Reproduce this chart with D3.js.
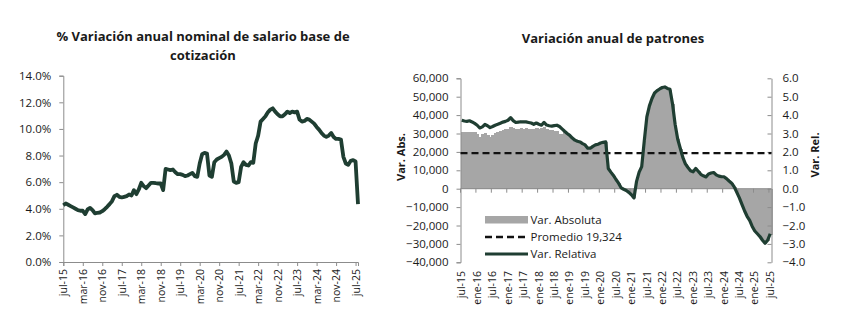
<!DOCTYPE html>
<html><head><meta charset="utf-8">
<script src="https://cdn.jsdelivr.net/npm/d3@7"></script>
<style>
body{margin:0;background:#fff;}
svg{display:block;font-family:"Open Sans",sans-serif;}
</style></head>
<body><svg id="c" width="849" height="334"></svg>
<script>
// ---- Data ----
const salario = [4.27,4.4,4.3,4.2,4.1,4.0,3.9,3.85,3.85,3.6,3.95,4.07,3.9,3.65,3.7,3.72,3.82,3.97,4.15,4.35,
4.57,4.95,5.05,4.9,4.85,4.9,4.95,5.07,5.0,5.4,5.1,5.45,5.95,5.7,5.55,5.75,5.95,5.95,5.92,5.9,
5.9,5.4,7.0,6.95,6.9,6.95,6.75,6.6,6.6,6.55,6.45,6.5,6.6,6.7,6.45,6.4,7.4,8.1,8.2,8.15,
6.5,6.4,7.5,7.7,7.8,7.9,8.05,8.3,8.0,7.4,6.05,5.95,6.0,7.15,7.5,7.3,7.25,7.5,7.45,8.9,
9.5,10.55,10.75,10.95,11.25,11.45,11.55,11.3,11.1,10.95,10.95,11.1,11.3,11.2,11.3,11.25,11.3,10.7,10.55,10.6,
10.75,10.7,10.55,10.4,10.15,9.95,9.7,9.5,9.4,9.5,9.7,9.4,9.25,9.25,9.2,7.9,7.4,7.3,7.6,7.65,
7.55,4.35];
const relativa = [3.72,3.68,3.66,3.69,3.63,3.55,3.45,3.3,3.36,3.49,3.42,3.32,3.38,3.45,3.5,3.56,3.62,3.66,3.72,3.86,
3.7,3.6,3.62,3.64,3.63,3.63,3.6,3.57,3.5,3.57,3.5,3.45,3.6,3.46,3.42,3.4,3.43,3.45,3.38,3.25,
3.12,3.0,2.9,2.75,2.64,2.58,2.54,2.45,2.38,2.2,2.2,2.3,2.38,2.42,2.48,2.52,2.55,1.1,0.9,0.72,
0.5,0.3,0.05,-0.03,-0.1,-0.2,-0.33,-0.5,0.4,0.9,1.2,2.6,3.9,4.5,4.9,5.2,5.33,5.42,5.5,5.53,
5.45,5.4,4.6,3.5,2.7,2.2,1.7,1.35,1.15,0.98,0.92,1.1,0.95,0.78,0.7,0.64,0.8,0.85,0.88,0.75,
0.68,0.66,0.65,0.55,0.42,0.3,0.1,-0.2,-0.5,-0.85,-1.2,-1.5,-1.72,-2.05,-2.3,-2.45,-2.6,-2.8,-2.97,-2.8,
-2.45];
const absoluta = [31000,30800,30900,31000,30700,30600,29800,28300,29500,30300,29000,28200,29300,30200,30900,31500,32000,32300,32600,33400,
32800,32500,32700,32900,32600,32800,32700,32400,32700,32900,32300,33100,33300,32300,31900,31700,31400,31100,30000,29600,
31000,29800,28800,27400,26300,25700,25300,24400,23700,21900,22000,23000,23700,24100,24700,25100,25400,10800,8900,7100,
4900,2900,400,-400,-1000,-2100,-3400,-5100,3900,8900,11800,25800,38800,44800,48800,51800,53200,54100,54800,55100,
54400,53800,45800,34800,26800,21800,16800,13400,11400,9700,9100,10900,9400,7700,6900,6300,7900,8400,8700,7400,
6700,6500,6400,5400,4100,2900,900,-2100,-5100,-8600,-12100,-15100,-17400,-20700,-23200,-24800,-26400,-28400,-30200,-28600,
-25000];
const promedio = 19324;
const leftTickLabels = ["jul-15","mar-16","nov-16","jul-17","mar-18","nov-18","jul-19","mar-20","nov-20","jul-21","mar-22","nov-22","jul-23","mar-24","nov-24","jul-25"];
const rightTickLabels = ["jul-15","ene-16","jul-16","ene-17","jul-17","ene-18","jul-18","ene-19","jul-19","ene-20","jul-20","ene-21","jul-21","ene-22","jul-22","ene-23","jul-23","ene-24","jul-24","ene-25","jul-25"];
const leftYTicks = [0,2,4,6,8,10,12,14];
const absTicks = [-40000,-30000,-20000,-10000,0,10000,20000,30000,40000,50000,60000];
const relTicks = [-4,-3,-2,-1,0,1,2,3,4,5,6];

const GREEN = "#1f3e32", AXIS = "#8c8c8c", BAR = "#a6a6a6", TXT = "#1a1a1a";
const svg = d3.select("#c");
svg.append("rect").attr("width",849).attr("height",334).attr("fill","#fff");

// ---- Left chart ----
const xL = d3.scaleLinear().domain([0, salario.length-1]).range([63.3, 358]);
const yL = d3.scaleLinear().domain([0,14]).range([262, 75.7]);
const gL = svg.append("g");
gL.append("text").attr("x",203).attr("y",41).attr("text-anchor","middle").attr("font-size",13).attr("font-weight",700).attr("fill",TXT).text("% Variación anual nominal de salario base de");
gL.append("text").attr("x",203).attr("y",59.5).attr("text-anchor","middle").attr("font-size",13).attr("font-weight",700).attr("fill",TXT).text("cotización");

const yAxL = gL.append("g").attr("transform","translate(63.3,0)")
  .call(d3.axisLeft(yL).tickValues(leftYTicks).tickSize(4).tickPadding(8).tickFormat(d=>d3.format(".1f")(d)+"%"));
const xTickIdx = leftTickLabels.map((d,i)=>i*8);
const xAxL = gL.append("g").attr("transform","translate(0,262)")
  .call(d3.axisBottom(xL).tickValues(xTickIdx).tickSize(4).tickFormat((d,i)=>leftTickLabels[i]));
[yAxL,xAxL].forEach(a=>{a.select(".domain").attr("stroke",AXIS);a.selectAll(".tick line").attr("stroke",AXIS);
  a.selectAll("text").attr("fill",TXT).attr("font-family","Open Sans");});
yAxL.selectAll("text").attr("font-size",11.5);
xAxL.selectAll("text").attr("font-size",10.5).attr("text-anchor","end").attr("transform","rotate(-90)").attr("x",-7).attr("y",0).attr("dy","0.35em");
gL.append("path").datum(salario).attr("fill","none").attr("stroke",GREEN).attr("stroke-width",3.8).attr("stroke-linejoin","round")
  .attr("d", d3.line().x((d,i)=>xL(i)).y(d=>yL(d)));

// ---- Right chart ----
const xR = d3.scaleBand().domain(d3.range(absoluta.length)).range([460.5, 771.5]).padding(0);
const yA = d3.scaleLinear().domain([-40000,60000]).range([262.3, 78.3]);
const yR = d3.scaleLinear().domain([-4,6]).range([262.3, 78.3]);
const gR = svg.append("g");
gR.append("text").attr("x",613).attr("y",42.5).attr("text-anchor","middle").attr("font-size",13).attr("font-weight",700).attr("fill",TXT).text("Variación anual de patrones");

gR.append("g").attr("shape-rendering","crispEdges").selectAll("rect").data(absoluta).join("rect")
  .attr("x",(d,i)=>xR(i)).attr("width",xR.bandwidth()+1)
  .attr("y",d=>yA(Math.max(0,d))).attr("height",d=>Math.abs(yA(d)-yA(0))).attr("fill",BAR);

const aAx = gR.append("g").attr("transform","translate(460.5,0)")
  .call(d3.axisLeft(yA).tickValues(absTicks).tickSize(4).tickPadding(8).tickFormat(d3.format(",")));
const rAx = gR.append("g").attr("transform","translate(771.5,0)")
  .call(d3.axisRight(yR).tickValues(relTicks).tickSizeInner(-4).tickSizeOuter(0).tickPadding(11).tickFormat(d3.format(".1f")));
[aAx,rAx].forEach(a=>{a.select(".domain").attr("stroke",AXIS);a.selectAll(".tick line").attr("stroke",AXIS);
  a.selectAll("text").attr("fill",TXT).attr("font-family","Open Sans").attr("font-size",11.5);});
gR.append("line").attr("x1",460.5).attr("x2",771.5).attr("y1",yA(0)).attr("y2",yA(0)).attr("stroke",AXIS);
const rIdx = rightTickLabels.map((d,i)=>i*6);
gR.selectAll("line.xt").data(rIdx).join("line").attr("class","xt")
  .attr("x1",d=>xR(d)).attr("x2",d=>xR(d)).attr("y1",yA(0)).attr("y2",yA(0)+4).attr("stroke",AXIS);
gR.selectAll("text.xl").data(rIdx).join("text").attr("class","xl")
  .attr("transform",d=>`translate(${xR(d)+xR.bandwidth()/2},271) rotate(-90)`)
  .attr("text-anchor","end").attr("dy","0.35em").attr("font-size",10.5).attr("fill",TXT)
  .text((d,i)=>rightTickLabels[i]);

gR.append("line").attr("x1",460.5).attr("x2",771.5).attr("y1",yA(promedio)).attr("y2",yA(promedio))
  .attr("stroke","#111").attr("stroke-width",2.4).attr("stroke-dasharray","7,4");
gR.append("path").datum(relativa).attr("fill","none").attr("stroke",GREEN).attr("stroke-width",3.2).attr("stroke-linejoin","round")
  .attr("d", d3.line().x((d,i)=>xR(i)+xR.bandwidth()/2).y(d=>yR(d)));

gR.append("text").attr("transform","translate(405,157) rotate(-90)").attr("text-anchor","middle").attr("font-size",11).attr("font-weight",700).attr("fill",TXT).text("Var. Abs.");
gR.append("text").attr("transform","translate(819,155) rotate(-90)").attr("text-anchor","middle").attr("font-size",11).attr("font-weight",700).attr("fill",TXT).text("Var. Rel.");

// legend
const lg = gR.append("g");
lg.append("rect").attr("x",485).attr("y",216).attr("width",43).attr("height",7.5).attr("fill",BAR);
lg.append("line").attr("x1",485).attr("x2",528).attr("y1",237).attr("y2",237).attr("stroke","#111").attr("stroke-width",2.4).attr("stroke-dasharray","7,4");
lg.append("line").attr("x1",485).attr("x2",528).attr("y1",254).attr("y2",254).attr("stroke",GREEN).attr("stroke-width",3.2);
[["Var. Absoluta",219.5],["Promedio 19,324",237],["Var. Relativa",254]].forEach(([t,y])=>
  lg.append("text").attr("x",530.5).attr("y",y).attr("dy","0.35em").attr("font-size",11.5).attr("fill",TXT).text(t));
</script></body></html>
